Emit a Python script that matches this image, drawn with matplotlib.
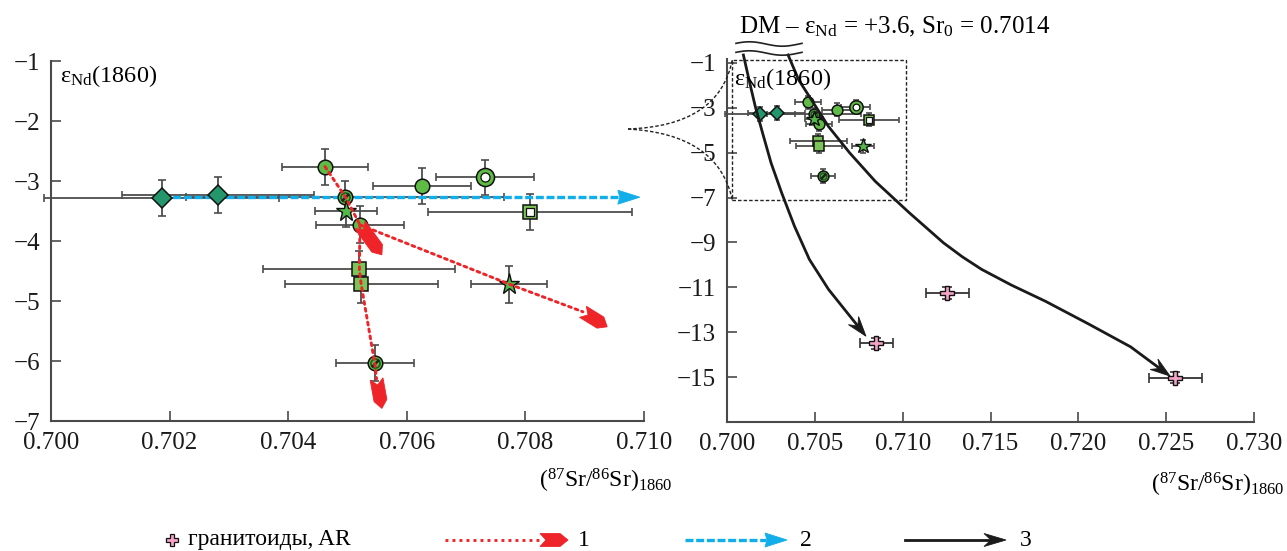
import numpy as np
import matplotlib
matplotlib.use('Agg')
import matplotlib.pyplot as plt
from matplotlib.patches import Polygon, Rectangle, PathPatch
from matplotlib.path import Path

W, H = 1287, 551

# ---- samples: (87Sr/86Sr)1860, eNd(1860) and their errors ----
dia_x = [0.70187, 0.70282]
dia_y = [-3.28, -3.23]
dia_xerr = [0.00198, 0.00162]
dia_yerr = [0.30, 0.30]

circ_x = [0.70462, 0.70626, 0.70521]
circ_y = [-2.76, -3.08, -3.73]
circ_xerr = [0.00073, 0.00083, 0.00074]
circ_yerr = [0.30, 0.30, 0.31]

hatch_x = [0.70496, 0.70546]
hatch_y = [-3.26, -6.04]
hatch_xerr = [0.00268, 0.00066]
hatch_yerr = [0.26, 0.30]

ring_x = [0.70732]
ring_y = [-2.94]
ring_xerr = [0.00083]
ring_yerr = [0.29]

sq_x = [0.70520, 0.70523]
sq_y = [-4.47, -4.72]
sq_xerr = [0.00162, 0.00129]
sq_yerr = [0.30, 0.31]

osq_x = [0.70808]
osq_y = [-3.52]
osq_xerr = [0.00172]
osq_yerr = [0.30]

star_x = [0.70497, 0.70773]
star_y = [-3.50, -4.72]
star_xerr = [0.00052, 0.00064]
star_yerr = [0.26, 0.31]

# granitoids, AR (right panel only)
gran_x = [0.70851, 0.71255, 0.72552]
gran_y = [-13.49, -11.25, -15.03]
gran_xerr = [0.00094, 0.00122, 0.00152]
gran_yerr = [0.25, 0.25, 0.25]

# ---- trend 1 (red), three branches: dotted part, then arrow tip ----
mix1_x = [0.70462, 0.70496, 0.70521]
mix1_y = [-2.76, -3.26, -3.73]
mix1_tip = (0.70558, -4.23)
mix2_x = [0.70521, 0.70773, 0.70897]
mix2_y = [-3.73, -4.72, -5.18]
mix2_tip = (0.70938, -5.43)
mix3_x = [0.70521, 0.70520, 0.70523, 0.70546, 0.70549]
mix3_y = [-3.73, -4.47, -4.72, -6.04, -6.30]
mix3_tip = (0.70558, -6.79)

# ---- trend 2 (blue) ----
blue_x = [0.70187, 0.70993]
blue_y = [-3.27, -3.27]

# ---- trend 3 (black curves from DM) ----
curve1_x = [0.700934, 0.701298, 0.701611, 0.702027, 0.702510, 0.703114,
            0.703842, 0.704691, 0.705778, 0.706991, 0.707912]
curve1_y = [-0.644, -1.902, -2.942, -4.124, -5.458, -6.791,
            -8.276, -9.756, -11.089, -12.276, -13.178]
curve2_x = [0.703478, 0.704082, 0.704810, 0.705778, 0.706991, 0.708442,
            0.710384, 0.712320, 0.713400, 0.714499, 0.716195, 0.718130,
            0.720556, 0.722975, 0.725226]
curve2_y = [-0.644, -1.756, -2.644, -3.831, -5.013, -6.276,
            -7.680, -9.013, -9.640, -10.200, -10.900, -11.620,
            -12.620, -13.650, -14.956]

# inset frame on right panel (range of the left panel)
frame_x = [0.7003, 0.7102]
frame_y = [-7.09, -0.87]

left_xticks = [0.700, 0.702, 0.704, 0.706, 0.708, 0.710]
left_yticks = [-1, -2, -3, -4, -5, -6, -7]
right_xticks = [0.700, 0.705, 0.710, 0.715, 0.720, 0.725, 0.730]
right_yticks = [-1, -3, -5, -7, -9, -11, -13, -15]

c_dia = '#23966b'
c_circ = '#5fba46'
c_sq = '#7cc35a'
c_star = '#52b848'
c_pink = '#f3a3c6'
c_red = '#ee2429'
c_blue = '#12aeea'
c_err = '#4d4d4d'
c_axis = '#4a4a4a'

plt.rcParams['font.family'] = ['Liberation Serif', 'DejaVu Serif']
plt.rcParams['mathtext.fontset'] = 'custom'
plt.rcParams['mathtext.rm'] = 'Liberation Serif'
plt.rcParams['mathtext.it'] = 'Liberation Serif:italic'

fig = plt.figure(figsize=(W / 100, H / 100), dpi=100)
axL = fig.add_axes([51 / W, 1 - 421 / H, 593 / W, 360 / H])
axR = fig.add_axes([727 / W, 1 - 422 / H, 527 / W, 363.5 / H])

axL.set_xlim(0.700, 0.710)
axL.set_ylim(-7, -1)
axR.set_xlim(0.700, 0.730)
axR.set_ylim(-17, -0.8)


def style_axis(ax, xt, yt):
    for s in ['top', 'right']:
        ax.spines[s].set_visible(False)
    for s in ['left', 'bottom']:
        ax.spines[s].set_linewidth(1.5)
        ax.spines[s].set_color(c_axis)
    ax.set_xticks(xt)
    ax.set_yticks(yt)
    ax.set_xticklabels(['%.3f' % v for v in xt])
    ax.set_yticklabels(['\u2212%d' % abs(v) for v in yt])
    ax.tick_params(direction='in', length=7, width=1.2, color=c_axis,
                   labelsize=18, pad=8, labelcolor='#1a1a1a')


style_axis(axL, left_xticks, left_yticks)
style_axis(axR, right_xticks, right_yticks)


def draw_samples(ax, s):
    ekw = dict(fmt='none', ecolor=c_err, elinewidth=1.3, capsize=3.2 * s,
               capthick=1.2, zorder=3, clip_on=False)
    for x, y, xe, ye in [(dia_x, dia_y, dia_xerr, dia_yerr),
                         (circ_x, circ_y, circ_xerr, circ_yerr),
                         (hatch_x, hatch_y, hatch_xerr, hatch_yerr),
                         (ring_x, ring_y, ring_xerr, ring_yerr),
                         (sq_x, sq_y, sq_xerr, sq_yerr),
                         (osq_x, osq_y, osq_xerr, osq_yerr),
                         (star_x, star_y, star_xerr, star_yerr)]:
        ax.errorbar(x, y, xerr=xe, yerr=ye, **ekw)
    mk = dict(ls='none', zorder=5, mec='#111111')
    ax.plot(dia_x, dia_y, 'D', ms=9.8 * s, mfc=c_dia, mew=1.1, **mk)
    ax.plot(circ_x, circ_y, 'o', ms=10.5 * s, mfc=c_circ, mew=1.1, **mk)
    ax.plot(hatch_x, hatch_y, 'o', ms=10.5 * s, mfc=c_circ, mew=1.1, **mk)
    ax.plot(hatch_x, hatch_y, 'o', ms=6.5 * s, mfc='none', mew=1.2, ls='none',
            zorder=5, mec='#1d5c1d')
    ax.plot(hatch_x, hatch_y, marker=(2, 2, -45), ms=7 * s, mew=1.6, ls='none',
            zorder=5, mec='#222222')
    ax.plot(ring_x, ring_y, 'o', ms=13 * s, mfc=c_circ, mew=1.1, **mk)
    ax.plot(ring_x, ring_y, 'o', ms=6.5 * s, mfc='white', mew=0.9, **mk)
    ax.plot(sq_x, sq_y, 's', ms=10.5 * s, mfc=c_sq, mew=1.1, **mk)
    ax.plot(osq_x, osq_y, 's', ms=10 * s, mfc=c_sq, mew=1.1, **mk)
    ax.plot(osq_x, osq_y, 's', ms=5.5 * s, mfc='white', mew=0.9, **mk)
    ax.plot(star_x, star_y, '*', ms=15.5 * s, mfc=c_star, mew=1.0, **mk)


draw_samples(axL, 1.0)
draw_samples(axR, 0.74)

axR.errorbar(gran_x, gran_y, xerr=gran_xerr, yerr=gran_yerr, fmt='none',
             ecolor='#333333', elinewidth=1.3, capsize=3.5, capthick=1.2, zorder=3)
axR.plot(gran_x, gran_y, 'P', ms=10, mfc=c_pink, mec='#111111', mew=1.0,
         ls='none', zorder=5)

inv = fig.transFigure.inverted()


def head(tail, tip, width, notch, headlen=None, color='k', zorder=8):
    # tail / tip in display pixels
    tail = np.asarray(tail, float)
    tip = np.asarray(tip, float)
    d = tip - tail
    u = d / np.hypot(*d)
    n = np.array([-u[1], u[0]])
    hw = width / 2
    if headlen is None:
        verts = [tail + n * hw, tip, tail - n * hw, tail + u * notch]
    else:
        base = tip - u * headlen
        verts = [tail + n * hw, base + n * hw, tip, base - n * hw,
                 tail - n * hw, tail + u * notch]
    verts = inv.transform(np.array(verts))
    fig.add_artist(Polygon(verts, closed=True, transform=fig.transFigure,
                           fc=color, ec=color, lw=0.6, zorder=zorder))


def pix(x, y):
    # pixel from top-left -> display
    return (x, H - y)


# ---- trend 1 ----
red_kw = dict(color=c_red, lw=2.1, ls=(0, (1.0, 1.4)), zorder=6,
              solid_capstyle='round', dash_capstyle='round')
for mx, my, tip in [(mix1_x, mix1_y, mix1_tip),
                    (mix2_x, mix2_y, mix2_tip),
                    (mix3_x, mix3_y, mix3_tip)]:
    axL.plot(mx, my, **red_kw)
    head(axL.transData.transform((mx[-1], my[-1])),
         axL.transData.transform(tip), 13, 6, headlen=8, color=c_red)

# ---- trend 2 ----
b_tip = axL.transData.transform((blue_x[-1], blue_y[-1]))
b_tail = b_tip - np.array([22.0, 0.0])
b_tail_data = axL.transData.inverted().transform(b_tail)
axL.plot([blue_x[0], b_tail_data[0]], [blue_y[0], b_tail_data[1]], color=c_blue,
         lw=2.4, ls=(0, (2.4, 0.8)), zorder=4)
head(b_tail, b_tip, 14, 2, color=c_blue)

# ---- trend 3 ----
for cx, cy in [(curve1_x, curve1_y), (curve2_x, curve2_y)]:
    p_prev = axR.transData.transform((cx[-2], cy[-2]))
    p_tip = axR.transData.transform((cx[-1], cy[-1]))
    u = (p_tip - p_prev) / np.hypot(*(p_tip - p_prev))
    p_tail = p_tip - u * 20
    tail_data = axR.transData.inverted().transform(p_tail + u * 6)
    axR.plot(list(cx[:-1]) + [tail_data[0]], list(cy[:-1]) + [tail_data[1]],
             color='#1a1a1a', lw=2.0, zorder=7, clip_on=False,
             solid_joinstyle='round')
    head(p_tail, p_tip, 13, 7, color='#1a1a1a')

# ---- inset frame and callout ----
axR.add_patch(Rectangle((frame_x[0], frame_y[0]), frame_x[1] - frame_x[0],
                        frame_y[1] - frame_y[0], fill=False, ec='#222222',
                        lw=1.0, ls=(0, (2.5, 1.5)), zorder=2, clip_on=False))
c_top = axR.transData.transform((frame_x[0], frame_y[1]))
c_bot = axR.transData.transform((frame_x[0], frame_y[0]))
c_tip = np.array(pix(628, 129))
for start, ctrl in [(c_top, np.array(pix(719, 126))),
                    (c_bot, np.array(pix(718, 134)))]:
    verts = inv.transform(np.array([start, ctrl, c_tip]))
    fig.add_artist(PathPatch(Path(verts, [Path.MOVETO, Path.CURVE3, Path.CURVE3]),
                             fill=False, ec='#222222', lw=1.0, ls=(0, (2.5, 1.5)),
                             transform=fig.transFigure))

# wavy marks under DM label
t = np.linspace(0, 1, 60)
for yy in [44, 53]:
    xs = 736 + 66 * t
    ys = yy - 2.2 * np.sin(2 * np.pi * t + 0.3)
    fig.add_artist(plt.Line2D(xs / W, 1 - ys / H, color='#222222', lw=1.2,
                              transform=fig.transFigure))

# ---- texts ----
eps_label = '\u03b5$_{\\mathrm{Nd}}$(1860)'
fig.text(60 / W, 1 - 76 / H, eps_label, fontsize=17.5, ha='left', va='center')
fig.text(734 / W, 1 - 79 / H, eps_label, fontsize=17.5, ha='left', va='center')
fig.text(739 / W, 1 - 27 / H,
         'DM \u2013 \u03b5$_{\\mathrm{Nd}}$ = +3.6, Sr$_0$ = 0.7014',
         fontsize=18, ha='left', va='center')
sr_label = '($^{87}$Sr/$^{86}$Sr)$_{1860}$'
fig.text(672 / W, 1 - 481 / H, sr_label, fontsize=17, ha='right', va='center')
fig.text(1284 / W, 1 - 485 / H, sr_label, fontsize=17, ha='right', va='center')

# ---- legend ----
ly = 540
fig.add_artist(plt.Line2D([172 / W], [1 - ly / H], marker='P', ms=9, mfc=c_pink,
                          mec='#111111', mew=0.9, ls='none', transform=fig.transFigure))
fig.text(188 / W, 1 - ly / H, 'гранитоиды, AR', fontsize=17, ha='left', va='center')

fig.add_artist(plt.Line2D([445 / W, 540 / W], [1 - ly / H] * 2, color=c_red, lw=2.1,
                          ls=(0, (1.0, 1.4)), transform=fig.transFigure))
head(pix(540, ly), pix(568, ly), 13, 6, headlen=8, color=c_red)
fig.text(578 / W, 1 - ly / H, '1', fontsize=17, ha='left', va='center')

fig.add_artist(plt.Line2D([685 / W, 766 / W], [1 - ly / H] * 2, color=c_blue, lw=2.4,
                          ls=(0, (2.4, 0.8)), transform=fig.transFigure))
head(pix(765, ly), pix(787, ly), 14, 2, color=c_blue)
fig.text(800 / W, 1 - ly / H, '2', fontsize=17, ha='left', va='center')

fig.add_artist(plt.Line2D([905 / W, 990 / W], [1 - ly / H] * 2, color='#1a1a1a', lw=2.0,
                          transform=fig.transFigure))
head(pix(984, ly), pix(1006, ly), 13, 7, color='#1a1a1a')
fig.text(1020 / W, 1 - ly / H, '3', fontsize=17, ha='left', va='center')

fig.savefig('out.png', dpi=100)
